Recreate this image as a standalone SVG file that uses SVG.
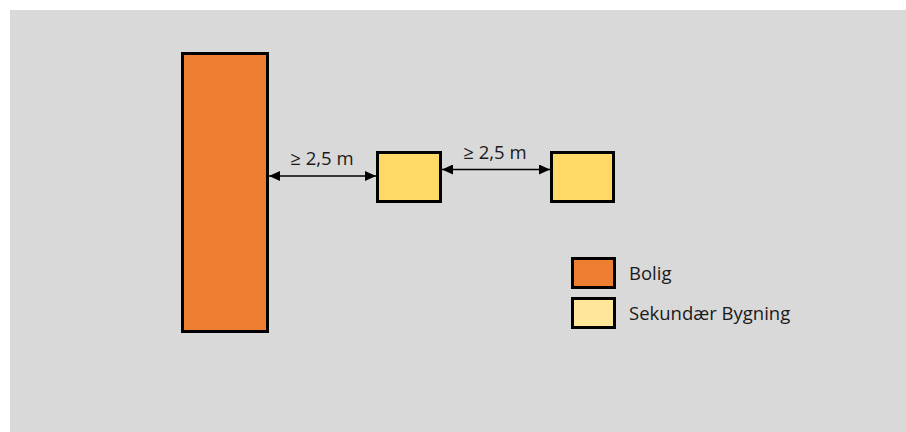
<svg xmlns="http://www.w3.org/2000/svg" width="906" height="432" viewBox="0 0 906 432">
<style>
.box{stroke:#000;stroke-width:3}
.lbl{font-family:"Open Sans","Liberation Sans",sans-serif;font-size:18.5px;fill:#1a1a1a}
.dim{stroke:#000;stroke-width:1.3;fill:none}
</style>
<defs>
<marker id="ah" viewBox="0 0 11 10" refX="11" refY="5" markerWidth="11" markerHeight="10" markerUnits="userSpaceOnUse" orient="auto-start-reverse">
<path d="M0,0 L11,5 L0,10 Z" fill="#000"/>
</marker>
</defs>
<rect x="0" y="0" width="906" height="432" fill="#fff"/>
<rect x="10" y="10" width="896" height="422" fill="#d9d9d9"/>
<g id="bolig"><rect class="box" x="182.5" y="53.5" width="85" height="278" fill="#ed7d31"/></g>
<g id="sek1"><rect class="box" x="377.5" y="152.5" width="63" height="49" fill="#ffd966"/></g>
<g id="sek2"><rect class="box" x="551.5" y="152.5" width="62" height="49" fill="#ffd966"/></g>
<g id="connectors">
<line class="dim" x1="269" y1="176" x2="376" y2="176" marker-start="url(#ah)" marker-end="url(#ah)"/>
<line class="dim" x1="442" y1="169.5" x2="550" y2="169.5" marker-start="url(#ah)" marker-end="url(#ah)"/>
</g>
<text class="lbl" x="322" y="165" text-anchor="middle">≥ 2,5 m</text>
<text class="lbl" x="495" y="159" text-anchor="middle">≥ 2,5 m</text>
<g id="legend">
<rect class="box" x="572.5" y="258.5" width="42" height="29" fill="#ed7d31"/>
<text class="lbl" x="629" y="280">Bolig</text>
<rect class="box" x="572.5" y="298.5" width="42" height="29" fill="#ffe699"/>
<text class="lbl" x="629" y="320">Sekundær Bygning</text>
</g>
</svg>
